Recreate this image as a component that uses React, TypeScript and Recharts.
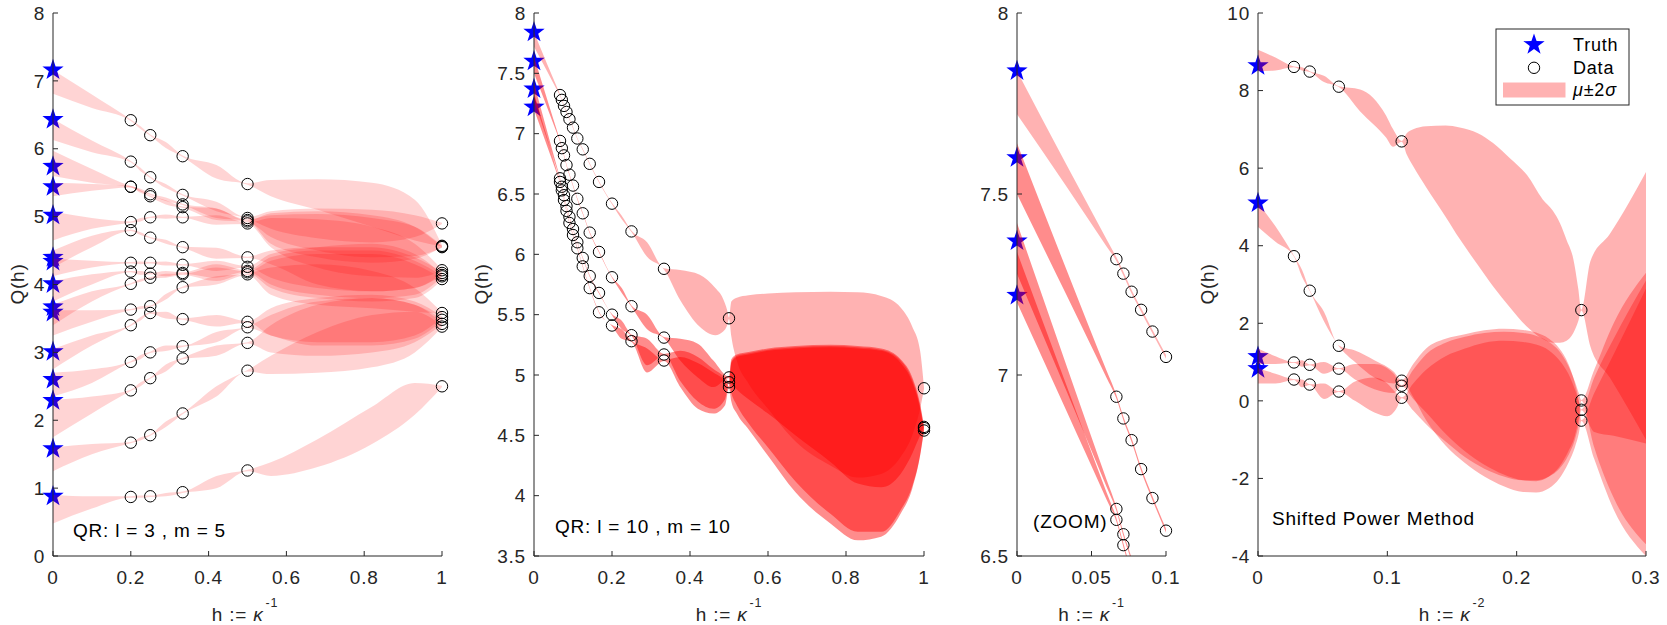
import React from 'react';
import { ComposedChart, Area, Scatter, XAxis, YAxis } from 'recharts';

const FONT = '"Liberation Sans", Arial, Helvetica, sans-serif';
const AXIS_COLOR = '#262626';
const BAND_COLOR = '#ff0000';

type Tri = [number, number, number];

// ---------------- Panel 1 : QR l=3, m=5 ----------------
const p1Truth = [7.16, 6.43, 5.74, 5.44, 5.02, 4.4, 4.34, 4.01, 3.67, 3.59, 3.01, 2.6, 2.29, 1.58, 0.88];
const p1H = [0.2, 0.25, 0.3333, 0.5, 1];
const p1Data = [
  [6.42, 5.81, 5.44, 5.44, 4.92, 4.8, 4.32, 4.19, 4.01, 3.63, 3.4, 2.86, 2.44, 1.67, 0.87],
  [6.2, 5.58, 5.33, 5.3, 4.99, 4.69, 4.32, 4.16, 4.1, 3.68, 3.58, 3.0, 2.62, 1.78, 0.88],
  [5.89, 5.32, 5.18, 5.14, 4.99, 4.55, 4.29, 4.17, 4.15, 3.96, 3.49, 3.09, 2.91, 2.1, 0.94],
  [5.48, 4.98, 4.95, 4.93, 4.9, 4.4, 4.26, 4.2, 4.18, 4.15, 3.45, 3.37, 3.14, 2.73, 1.26],
  [4.9, 4.57, 4.56, 4.55, 4.21, 4.17, 4.14, 4.12, 4.08, 3.58, 3.52, 3.48, 3.42, 3.38, 2.5],
];
const p1Bands: Tri[][] = [
  [[0, 6.81, 7.16], [0.1, 6.6, 6.8], [0.2, 6.41, 6.43], [0.225, 6.29, 6.33], [0.25, 6.19, 6.21], [0.29, 6.01, 6.1], [0.3333, 5.88, 5.9], [0.42, 5.56, 5.76], [0.5, 5.47, 5.49], [0.56, 5.3, 5.54], [0.68, 5.1, 5.55], [0.82, 4.85, 5.5], [0.93, 4.65, 5.25], [1, 4.56, 4.58]],
  [[0, 6.13, 6.44], [0.1, 5.95, 6.12], [0.2, 5.8, 5.82], [0.225, 5.67, 5.72], [0.25, 5.57, 5.59], [0.29, 5.42, 5.48], [0.3333, 5.31, 5.33], [0.42, 5.08, 5.22], [0.5, 4.97, 4.99], [0.56, 4.82, 5.08], [0.68, 4.68, 5.12], [0.82, 4.62, 5.1], [0.93, 4.7, 5.02], [1, 4.89, 4.91]],
  [[0, 5.6, 5.97], [0.1, 5.5, 5.7], [0.2, 5.43, 5.45], [0.225, 5.37, 5.41], [0.25, 5.32, 5.34], [0.29, 5.23, 5.28], [0.3333, 5.17, 5.19], [0.42, 4.98, 5.12], [0.5, 4.94, 4.96], [0.56, 4.6, 5.02], [0.68, 4.4, 5.04], [0.82, 4.32, 4.98], [0.93, 4.38, 4.85], [1, 4.55, 4.57]],
  [[0, 5.3, 5.5], [0.1, 5.38, 5.48], [0.2, 5.43, 5.45], [0.225, 5.35, 5.39], [0.25, 5.29, 5.31], [0.29, 5.18, 5.24], [0.3333, 5.13, 5.15], [0.42, 4.95, 5.12], [0.5, 4.92, 4.94], [0.56, 4.7, 5.05], [0.68, 4.5, 5.08], [0.82, 4.4, 5.02], [0.93, 4.42, 4.85], [1, 4.54, 4.56]],
  [[0, 4.65, 5.08], [0.1, 4.82, 4.98], [0.2, 4.91, 4.93], [0.225, 4.93, 4.98], [0.25, 4.98, 5.0], [0.29, 4.97, 5.03], [0.3333, 4.98, 5.0], [0.42, 4.88, 5.02], [0.5, 4.89, 4.91], [0.56, 4.55, 4.98], [0.68, 4.25, 4.96], [0.82, 4.12, 4.85], [0.93, 4.1, 4.6], [1, 4.2, 4.22]],
  [[0, 4.25, 4.5], [0.1, 4.55, 4.72], [0.2, 4.79, 4.81], [0.225, 4.73, 4.77], [0.25, 4.68, 4.7], [0.29, 4.6, 4.66], [0.3333, 4.54, 4.56], [0.42, 4.38, 4.54], [0.5, 4.39, 4.41], [0.56, 4.3, 4.5], [0.68, 4.0, 4.55], [0.82, 3.9, 4.55], [0.93, 3.95, 4.4], [1, 4.16, 4.18]],
  [[0, 4.12, 4.38], [0.1, 4.25, 4.35], [0.2, 4.31, 4.33], [0.225, 4.3, 4.34], [0.25, 4.31, 4.33], [0.29, 4.28, 4.34], [0.3333, 4.28, 4.3], [0.42, 4.2, 4.35], [0.5, 4.25, 4.27], [0.56, 4.1, 4.45], [0.68, 3.95, 4.55], [0.82, 3.9, 4.6], [0.93, 3.95, 4.45], [1, 4.13, 4.15]],
  [[0, 3.75, 4.05], [0.1, 4.0, 4.15], [0.2, 4.18, 4.2], [0.225, 4.14, 4.2], [0.25, 4.15, 4.17], [0.29, 4.12, 4.2], [0.3333, 4.16, 4.18], [0.42, 4.1, 4.3], [0.5, 4.19, 4.21], [0.56, 4.0, 4.4], [0.68, 3.85, 4.5], [0.82, 3.8, 4.5], [0.93, 3.85, 4.35], [1, 4.11, 4.13]],
  [[0, 3.4, 3.7], [0.1, 3.75, 3.9], [0.2, 4.0, 4.02], [0.225, 4.04, 4.08], [0.25, 4.09, 4.11], [0.29, 4.1, 4.16], [0.3333, 4.14, 4.16], [0.42, 4.05, 4.25], [0.5, 4.17, 4.19], [0.56, 3.95, 4.35], [0.68, 3.8, 4.45], [0.82, 3.75, 4.45], [0.93, 3.8, 4.3], [1, 4.07, 4.09]],
  [[0, 3.25, 3.62], [0.1, 3.45, 3.62], [0.2, 3.62, 3.64], [0.225, 3.64, 3.68], [0.25, 3.67, 3.69], [0.29, 3.78, 3.86], [0.3333, 3.95, 3.97], [0.42, 4.0, 4.12], [0.5, 4.14, 4.16], [0.56, 3.85, 4.25], [0.68, 3.7, 4.3], [0.82, 3.65, 4.2], [0.93, 3.6, 3.95], [1, 3.57, 3.59]],
  [[0, 2.75, 3.05], [0.1, 3.1, 3.25], [0.2, 3.39, 3.41], [0.225, 3.47, 3.52], [0.25, 3.57, 3.59], [0.29, 3.5, 3.6], [0.3333, 3.48, 3.5], [0.42, 3.38, 3.55], [0.5, 3.44, 3.46], [0.56, 3.25, 3.65], [0.68, 3.15, 3.8], [0.82, 3.15, 3.85], [0.93, 3.25, 3.75], [1, 3.51, 3.53]],
  [[0, 2.35, 2.7], [0.1, 2.55, 2.75], [0.2, 2.85, 2.87], [0.225, 2.9, 2.96], [0.25, 2.99, 3.01], [0.29, 3.02, 3.1], [0.3333, 3.08, 3.1], [0.42, 3.15, 3.3], [0.5, 3.36, 3.38], [0.56, 3.25, 3.55], [0.68, 3.1, 3.75], [0.82, 3.1, 3.8], [0.93, 3.2, 3.7], [1, 3.47, 3.49]],
  [[0, 1.75, 2.3], [0.1, 2.1, 2.35], [0.2, 2.43, 2.45], [0.225, 2.5, 2.56], [0.25, 2.61, 2.63], [0.29, 2.72, 2.82], [0.3333, 2.9, 2.92], [0.42, 2.95, 3.1], [0.5, 3.13, 3.15], [0.56, 3.0, 3.4], [0.68, 2.95, 3.7], [0.82, 3.0, 3.8], [0.93, 3.15, 3.7], [1, 3.41, 3.43]],
  [[0, 1.25, 1.6], [0.1, 1.5, 1.65], [0.2, 1.66, 1.68], [0.225, 1.7, 1.75], [0.25, 1.77, 1.79], [0.29, 1.9, 1.98], [0.3333, 2.09, 2.11], [0.42, 2.35, 2.5], [0.5, 2.72, 2.74], [0.56, 2.68, 2.95], [0.68, 2.7, 3.3], [0.82, 2.78, 3.55], [0.93, 3.0, 3.6], [1, 3.37, 3.39]],
  [[0, 0.48, 0.9], [0.1, 0.7, 0.88], [0.2, 0.86, 0.88], [0.225, 0.86, 0.89], [0.25, 0.87, 0.89], [0.29, 0.88, 0.93], [0.3333, 0.93, 0.95], [0.42, 1.0, 1.18], [0.5, 1.25, 1.27], [0.56, 1.18, 1.38], [0.68, 1.31, 1.72], [0.82, 1.65, 2.2], [0.93, 2.08, 2.55], [1, 2.49, 2.51]],
];

// ---------------- Panel 2 / 3 : QR l=10, m=10 ----------------
const p2H = [0.0667, 0.0714, 0.0769, 0.0833, 0.0909, 0.1, 0.1111, 0.125, 0.1429, 0.1667, 0.2, 0.25, 0.3333, 0.5, 1];
const p2Truth = [7.84, 7.6, 7.37, 7.22];
const p2TrackA = [7.32, 7.28, 7.23, 7.18, 7.12, 7.05, 6.96, 6.87, 6.75, 6.6, 6.42, 6.19, 5.88, 5.47, 4.89];
const p2TrackB = [6.94, 6.88, 6.82, 6.74, 6.66, 6.57, 6.46, 6.34, 6.18, 6.02, 5.81, 5.57, 5.31, 4.98, 4.57];
const p2TrackC = [6.63, 6.56, 6.49, 6.4, 6.31, 6.21, 6.1, 5.97, 5.82, 5.68, 5.5, 5.33, 5.17, 4.94, 4.56];
const p2TrackD = [6.6, 6.53, 6.45, 6.36, 6.26, 6.16, 6.05, 5.9, 5.72, 5.52, 5.41, 5.28, 5.12, 4.9, 4.54];

const p2BandA: Tri[] = [
  [0, 7.72, 7.84], [0.0333, 7.52, 7.58], [0.06, 7.356, 7.376], [0.0667, 7.315, 7.325], [0.0714, 7.275, 7.285],
  [0.0769, 7.225, 7.235], [0.0833, 7.175, 7.185], [0.0909, 7.115, 7.125], [0.1, 7.045, 7.055], [0.1111, 6.955, 6.965],
  [0.125, 6.865, 6.875], [0.1429, 6.745, 6.755], [0.1667, 6.595, 6.605], [0.2, 6.415, 6.425], [0.225, 6.29, 6.32],
  [0.25, 6.185, 6.195], [0.29, 5.98, 6.1], [0.3333, 5.875, 5.885], [0.375, 5.62, 5.87], [0.425, 5.4, 5.83],
  [0.465, 5.33, 5.72], [0.485, 5.36, 5.63], [0.495, 5.41, 5.54], [0.5, 5.465, 5.475],
  [0.506, 5.32, 5.61], [0.52, 5.12, 5.64], [0.55, 4.93, 5.66], [0.6, 4.72, 5.675], [0.67, 4.45, 5.685],
  [0.76, 4.25, 5.69], [0.83, 4.15, 5.685], [0.89, 4.18, 5.655], [0.94, 4.32, 5.56], [0.97, 4.5, 5.4],
  [0.99, 4.72, 5.2], [1, 4.885, 4.895],
];
const p2BandB: Tri[] = [
  [0, 7.5, 7.64], [0.0333, 7.22, 7.29], [0.06, 6.993, 7.013], [0.0667, 6.935, 6.945], [0.0714, 6.875, 6.885],
  [0.0769, 6.815, 6.825], [0.0833, 6.735, 6.745], [0.0909, 6.655, 6.665], [0.1, 6.565, 6.575], [0.1111, 6.455, 6.465],
  [0.125, 6.335, 6.345], [0.1429, 6.175, 6.185], [0.1667, 6.015, 6.025], [0.2, 5.805, 5.815], [0.225, 5.68, 5.72],
  [0.25, 5.565, 5.575], [0.29, 5.38, 5.5], [0.3333, 5.305, 5.315], [0.375, 5.12, 5.3], [0.42, 4.98, 5.26],
  [0.46, 4.9, 5.12], [0.5, 4.975, 4.985],
  [0.506, 4.93, 5.13], [0.52, 4.88, 5.17], [0.55, 4.8, 5.19], [0.6, 4.68, 5.22], [0.67, 4.5, 5.24],
  [0.76, 4.28, 5.25], [0.83, 4.1, 5.24], [0.89, 4.07, 5.22], [0.94, 4.18, 5.13], [0.97, 4.35, 4.98],
  [0.99, 4.5, 4.76], [1, 4.565, 4.575],
];
const p2BandC: Tri[] = [
  [0, 7.28, 7.42], [0.0333, 6.955, 7.025], [0.06, 6.692, 6.712], [0.0667, 6.625, 6.635], [0.0714, 6.555, 6.565],
  [0.0769, 6.485, 6.495], [0.0833, 6.395, 6.405], [0.0909, 6.305, 6.315], [0.1, 6.205, 6.215], [0.1111, 6.095, 6.105],
  [0.125, 5.965, 5.975], [0.1429, 5.815, 5.825], [0.1667, 5.675, 5.685], [0.2, 5.495, 5.505], [0.225, 5.38, 5.45],
  [0.25, 5.325, 5.335], [0.29, 5.08, 5.3], [0.3333, 5.165, 5.175], [0.375, 4.95, 5.2], [0.42, 4.78, 5.15],
  [0.46, 4.72, 5.05], [0.49, 4.8, 4.98], [0.5, 4.935, 4.945],
  [0.506, 4.85, 5.11], [0.52, 4.75, 5.16], [0.55, 4.6, 5.18], [0.6, 4.4, 5.21], [0.67, 4.12, 5.23],
  [0.76, 3.85, 5.24], [0.83, 3.7, 5.23], [0.89, 3.7, 5.21], [0.94, 3.88, 5.12], [0.97, 4.08, 4.96],
  [0.99, 4.34, 4.74], [1, 4.555, 4.565],
];
const p2BandD: Tri[] = [
  [0, 7.2, 7.34], [0.0333, 6.9, 6.97], [0.06, 6.657, 6.677], [0.0667, 6.595, 6.605], [0.0714, 6.525, 6.535],
  [0.0769, 6.445, 6.455], [0.0833, 6.355, 6.365], [0.0909, 6.255, 6.265], [0.1, 6.155, 6.165], [0.1111, 6.045, 6.055],
  [0.125, 5.895, 5.905], [0.1429, 5.715, 5.725], [0.1667, 5.515, 5.525], [0.2, 5.405, 5.415], [0.225, 5.3, 5.38],
  [0.25, 5.275, 5.285], [0.29, 5.02, 5.22], [0.3333, 5.115, 5.125], [0.375, 4.9, 5.15], [0.42, 4.72, 5.1],
  [0.46, 4.68, 5.02], [0.49, 4.75, 4.95], [0.5, 4.895, 4.905],
  [0.506, 4.78, 5.1], [0.52, 4.68, 5.15], [0.55, 4.55, 5.17], [0.6, 4.33, 5.2], [0.67, 4.03, 5.22],
  [0.76, 3.77, 5.23], [0.83, 3.63, 5.22], [0.89, 3.66, 5.2], [0.94, 3.85, 5.1], [0.97, 4.06, 4.94],
  [0.99, 4.33, 4.72], [1, 4.535, 4.545],
];

// ---------------- Panel 4 : Shifted Power Method ----------------
const p4H = [0.0278, 0.04, 0.0625, 0.1111, 0.25];
const p4Truth = [8.64, 5.1, 1.14, 0.83];
const p4Track1 = [8.61, 8.49, 8.1, 6.69, 2.34];
const p4Track2 = [3.73, 2.84, 1.42, 0.52, -0.51];
const p4Track3 = [0.99, 0.93, 0.83, 0.39, 0.01];
const p4Track4 = [0.55, 0.42, 0.24, 0.08, -0.23];

const p4Band1: Tri[] = [
  [0, 8.5, 9.05], [0.0135, 8.52, 8.85], [0.0278, 8.6, 8.62], [0.034, 8.52, 8.6], [0.04, 8.48, 8.5], [0.051, 8.22, 8.38],
  [0.0625, 8.09, 8.11], [0.079, 7.46, 8.03], [0.099, 6.79, 7.36], [0.1045, 6.55, 7.0], [0.1111, 6.68, 6.7],
  [0.115, 6.35, 6.9], [0.12, 6.05, 7.0], [0.13, 5.51, 7.08], [0.145, 4.75, 7.1], [0.156, 4.17, 7.05], [0.17, 3.5, 6.9],
  [0.182, 2.94, 6.64], [0.195, 2.4, 6.25], [0.208, 1.91, 5.82], [0.22, 1.6, 5.2], [0.228, 1.5, 4.9], [0.2335, 1.5, 4.58],
  [0.2386, 1.55, 4.15], [0.2438, 1.75, 3.66], [0.2476, 2.05, 2.9], [0.25, 2.33, 2.35], [0.257, 1.4, 3.6],
  [0.272, 0.6, 4.3], [0.3, -1.0, 5.9],
];
const p4Band2: Tri[] = [
  [0, 4.48, 5.1], [0.0135, 4.1, 4.5], [0.0278, 3.72, 3.74], [0.034, 3.2, 3.38], [0.04, 2.83, 2.85], [0.051, 2.05, 2.3],
  [0.0625, 1.41, 1.43], [0.075, 1.0, 1.3], [0.09, 0.6, 1.05], [0.105, 0.45, 0.75], [0.1111, 0.51, 0.53],
  [0.12, 0.1, 0.95], [0.13, -0.5, 1.35], [0.145, -1.15, 1.6], [0.16, -1.6, 1.72], [0.175, -1.95, 1.82],
  [0.19, -2.2, 1.86], [0.205, -2.35, 1.83], [0.215, -2.36, 1.76], [0.225, -2.25, 1.6], [0.233, -2.0, 1.35],
  [0.24, -1.6, 0.95], [0.245, -1.2, 0.45], [0.248, -0.85, 0.0], [0.25, -0.52, -0.5],
  [0.26, -1.5, 0.2], [0.275, -2.8, 1.2], [0.3, -4.0, 2.9],
];
const p4Band3: Tri[] = [
  [0, 0.95, 1.35], [0.0135, 0.95, 1.15], [0.0278, 0.98, 1.0], [0.034, 0.88, 1.05], [0.04, 0.92, 0.94], [0.051, 0.7, 1.0],
  [0.0625, 0.82, 0.84], [0.075, 0.55, 0.95], [0.09, 0.3, 0.95], [0.105, 0.2, 0.7], [0.1111, 0.38, 0.4],
  [0.12, 0.05, 0.8], [0.13, -0.3, 1.2], [0.145, -0.85, 1.5], [0.16, -1.3, 1.65], [0.175, -1.65, 1.75],
  [0.19, -1.9, 1.78], [0.205, -2.05, 1.75], [0.215, -2.07, 1.68], [0.225, -1.95, 1.52], [0.233, -1.7, 1.28],
  [0.24, -1.3, 0.9], [0.245, -0.9, 0.5], [0.248, -0.45, 0.2], [0.25, 0.0, 0.02],
  [0.26, -1.2, 0.8], [0.275, -2.5, 2.0], [0.3, -3.7, 3.3],
];
const p4Band4: Tri[] = [
  [0, 0.45, 0.85], [0.0135, 0.45, 0.7], [0.0278, 0.54, 0.56], [0.034, 0.35, 0.55], [0.04, 0.41, 0.43], [0.051, 0.05, 0.45],
  [0.0625, 0.23, 0.25], [0.075, 0.0, 0.5], [0.09, -0.3, 0.6], [0.1, -0.4, 0.45], [0.107, -0.2, 0.2], [0.1111, 0.07, 0.09],
  [0.12, -0.25, 0.45], [0.13, -0.6, 0.8], [0.145, -1.05, 1.15], [0.16, -1.45, 1.35], [0.175, -1.75, 1.5],
  [0.19, -1.95, 1.55], [0.205, -2.05, 1.52], [0.215, -2.05, 1.45], [0.225, -1.95, 1.3], [0.233, -1.75, 1.05],
  [0.24, -1.4, 0.7], [0.245, -1.0, 0.3], [0.248, -0.6, 0.0], [0.25, -0.24, -0.22],
  [0.26, -0.8, 0.6], [0.275, -0.9, 1.6], [0.3, -1.1, 3.1],
];

// ---------------- helpers ----------------
const toArea = (b: Tri[]) => b.map(([x, lo, hi]) => ({ x, r: [lo, hi] }));
const truthPoints = (ys: number[]) => ys.map((y) => ({ x: 0, y }));
const trackPoints = (hs: number[], tracks: number[][]) =>
  tracks.flatMap((t) => t.map((y, i) => ({ x: hs[i], y })));

const p1Circles = p1H.flatMap((h, i) => p1Data[i].map((y) => ({ x: h, y })));
const p2Circles = trackPoints(p2H, [p2TrackA, p2TrackB, p2TrackC, p2TrackD]);
const p3Circles = p2Circles.filter((p) => p.x <= 0.1001 && p.y >= 6.5);
const p4Circles = trackPoints(p4H, [p4Track1, p4Track2, p4Track3, p4Track4]);

const p1BandSeries = p1Bands.map((b) => ({ data: toArea(b), opacity: 0.17 }));
const p2BandSeries = [
  { data: toArea(p2BandA), opacity: 0.3 },
  { data: toArea(p2BandB), opacity: 0.45 },
  { data: toArea(p2BandC), opacity: 0.45 },
  { data: toArea(p2BandD), opacity: 0.45 },
];
const p4BandSeries = [p4Band1, p4Band2, p4Band3, p4Band4].map((b) => ({ data: toArea(b), opacity: 0.3 }));

const starPath = (cx: number, cy: number, R: number, r: number) => {
  let d = '';
  for (let i = 0; i < 10; i++) {
    const a = -Math.PI / 2 + (i * Math.PI) / 5;
    const rad = i % 2 === 0 ? R : r;
    d += (i === 0 ? 'M' : 'L') + (cx + rad * Math.cos(a)).toFixed(2) + ',' + (cy + rad * Math.sin(a)).toFixed(2);
  }
  return d + 'Z';
};

const STAR_R = 11.2;
const STAR_r = 4.4;
const CIRCLE_R = 5.7;

const StarShape = (p: any) => <path d={starPath(p.cx, p.cy, STAR_R, STAR_r)} fill="#0000ff" stroke="none" />;
const CircleShape = (p: any) => <circle cx={p.cx} cy={p.cy} r={CIRCLE_R} fill="none" stroke="#000" strokeWidth={1} />;

type PanelProps = {
  left: number;
  plotW: number;
  xDomain: [number, number];
  yDomain: [number, number];
  xTicks: number[];
  yTicks: number[];
  bands: { data: any[]; opacity: number }[];
  stars: { x: number; y: number }[];
  circles: { x: number; y: number }[];
};

function Panel({ left, plotW, xDomain, yDomain, xTicks, yTicks, bands, stars, circles }: PanelProps) {
  const width = plotW + 70;
  const height = 625;
  const margin = { top: 13, right: 20, bottom: 39, left: 0 };
  const axes = (show: boolean, clip: boolean) => [
    <XAxis
      key="x"
      type="number"
      dataKey="x"
      domain={xDomain}
      ticks={xTicks}
      interval={0}
      allowDataOverflow={clip}
      height={30}
      axisLine={show ? { stroke: AXIS_COLOR, strokeWidth: 1 } : false}
      tickLine={show ? { stroke: AXIS_COLOR, strokeWidth: 1 } : false}
      tick={show ? { fill: AXIS_COLOR, fontSize: 19 } : false}
      tickSize={-5}
      tickMargin={20}
    />,
    <YAxis
      key="y"
      type="number"
      dataKey="y"
      domain={yDomain}
      ticks={yTicks}
      interval={0}
      allowDataOverflow={clip}
      width={50}
      axisLine={show ? { stroke: AXIS_COLOR, strokeWidth: 1 } : false}
      tickLine={show ? { stroke: AXIS_COLOR, strokeWidth: 1 } : false}
      tick={show ? { fill: AXIS_COLOR, fontSize: 19 } : false}
      tickSize={-5}
      tickMargin={13}
    />,
  ];
  const layer: React.CSSProperties = { position: 'absolute', left: 0, top: 0 };
  return (
    <div style={{ position: 'absolute', left, top: 0, width, height }}>
      <div style={layer}>
        <ComposedChart width={width} height={height} margin={margin}>
          {axes(false, false)}
          <Scatter data={stars} shape={StarShape} isAnimationActive={false} />
        </ComposedChart>
      </div>
      <div style={layer}>
        <ComposedChart width={width} height={height} margin={margin}>
          {axes(true, true)}
          {bands.map((b, i) => (
            <Area
              key={i}
              data={b.data}
              dataKey="r"
              type="monotone"
              fill={BAND_COLOR}
              fillOpacity={b.opacity}
              stroke="none"
              dot={false}
              activeDot={false}
              isAnimationActive={false}
            />
          ))}
        </ComposedChart>
      </div>
      <div style={layer}>
        <ComposedChart width={width} height={height} margin={margin}>
          {axes(false, false)}
          <Scatter data={circles} shape={CircleShape} isAnimationActive={false} />
        </ComposedChart>
      </div>
    </div>
  );
}

const XLabel = ({ cx, exp }: { cx: number; exp: string }) => (
  <text x={cx} y={621} textAnchor="middle" fontSize={19} fill={AXIS_COLOR}>
    {'h := '}
    <tspan fontStyle="italic">κ</tspan>
    <tspan dx={2} dy={-14} fontSize={12.5}>{exp}</tspan>
  </text>
);

const YLabel = ({ cx }: { cx: number }) => (
  <text
    x={cx}
    y={284}
    transform={`rotate(-90 ${cx} 284)`}
    textAnchor="middle"
    dominantBaseline="central"
    fontSize={19}
    fill={AXIS_COLOR}
  >
    Q(h)
  </text>
);

export default function App() {
  return (
    <div
      style={{
        position: 'absolute',
        left: 0,
        top: 0,
        width: 1667,
        height: 625,
        background: '#fff',
        fontFamily: FONT,
        letterSpacing: '0.8px',
        overflow: 'hidden',
      }}
    >
      <Panel
        left={3}
        plotW={389}
        xDomain={[0, 1]}
        yDomain={[0, 8]}
        xTicks={[0, 0.2, 0.4, 0.6, 0.8, 1]}
        yTicks={[0, 1, 2, 3, 4, 5, 6, 7, 8]}
        bands={p1BandSeries}
        stars={truthPoints(p1Truth)}
        circles={p1Circles}
      />
      <Panel
        left={484}
        plotW={390}
        xDomain={[0, 1]}
        yDomain={[3.5, 8]}
        xTicks={[0, 0.2, 0.4, 0.6, 0.8, 1]}
        yTicks={[3.5, 4, 4.5, 5, 5.5, 6, 6.5, 7, 7.5, 8]}
        bands={p2BandSeries}
        stars={truthPoints(p2Truth)}
        circles={p2Circles}
      />
      <Panel
        left={967}
        plotW={149}
        xDomain={[0, 0.1]}
        yDomain={[6.5, 8]}
        xTicks={[0, 0.05, 0.1]}
        yTicks={[6.5, 7, 7.5, 8]}
        bands={p2BandSeries}
        stars={truthPoints(p2Truth)}
        circles={p3Circles}
      />
      <Panel
        left={1208}
        plotW={388}
        xDomain={[0, 0.3]}
        yDomain={[-4, 10]}
        xTicks={[0, 0.1, 0.2, 0.3]}
        yTicks={[-4, -2, 0, 2, 4, 6, 8, 10]}
        bands={p4BandSeries}
        stars={truthPoints(p4Truth)}
        circles={p4Circles}
      />
      <svg
        width={1667}
        height={625}
        style={{ position: 'absolute', left: 0, top: 0, pointerEvents: 'none' }}
      >
        <YLabel cx={17} />
        <YLabel cx={481} />
        <YLabel cx={1207} />
        <XLabel cx={245} exp="-1" />
        <XLabel cx={729} exp="-1" />
        <XLabel cx={1091.5} exp="-1" />
        <XLabel cx={1452} exp="-2" />
        <text x={73} y={537} fontSize={19} fill="#000">QR: l = 3 , m = 5</text>
        <text x={555} y={533} fontSize={19} fill="#000">QR: l = 10 , m = 10</text>
        <text x={1033} y={528} fontSize={19} fill="#000">(ZOOM)</text>
        <text x={1272} y={525} fontSize={19} fill="#000">Shifted Power Method</text>
        <g>
          <rect x={1496} y={29} width={133} height={76} fill="#fff" stroke={AXIS_COLOR} strokeWidth={1} />
          <path d={starPath(1534, 44.6, STAR_R, STAR_r)} fill="#0000ff" />
          <circle cx={1534} cy={67.8} r={CIRCLE_R} fill="none" stroke="#000" strokeWidth={1} />
          <rect x={1503} y={82.5} width={62.5} height={15} fill={BAND_COLOR} fillOpacity={0.3} />
          <text x={1573} y={44.6} fontSize={18} dominantBaseline="central" fill="#000">Truth</text>
          <text x={1573} y={67.8} fontSize={18} dominantBaseline="central" fill="#000">Data</text>
          <text x={1573} y={90} fontSize={18} dominantBaseline="central" fill="#000">
            <tspan fontStyle="italic">μ</tspan>±2<tspan fontStyle="italic">σ</tspan>
          </text>
        </g>
      </svg>
    </div>
  );
}
